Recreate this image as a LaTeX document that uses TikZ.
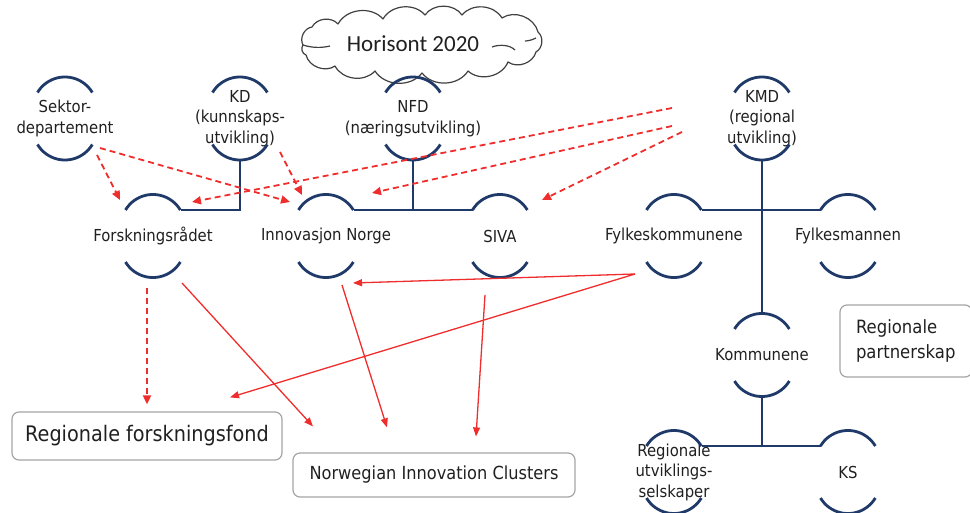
\documentclass[tikz,border=0pt]{standalone}
\usepackage{fontspec}
\setmainfont{DejaVu Sans}[FakeStretch=0.9]
\newfontfamily\cloudfont{Carlito}
\usetikzlibrary{arrows.meta,calc}
\definecolor{orgblue}{RGB}{31,58,104}
\definecolor{arrred}{RGB}{240,45,45}
\definecolor{boxgray}{RGB}{165,165,165}
\definecolor{txt}{RGB}{32,32,32}
\begin{document}
\begin{tikzpicture}[x=1pt,y=1pt,
  org/.style={rectangle, inner sep=0pt, align=center, text=txt, font=\fontsize{16.5}{20.5}\selectfont},
  orgline/.style={draw=orgblue, line width=2.8pt},
  cloudline/.style={draw=black!75, line width=1.2pt, line join=round},
  darr/.style={draw=arrred, line width=1.8pt, dash pattern=on 6pt off 4pt, -{Triangle[length=9pt,width=8pt]}},
  sarr/.style={draw=arrred, line width=1.3pt, -{Triangle[length=9pt,width=7pt]}},
  infobox/.style={draw=boxgray, line width=1.2pt, rounded corners=7pt, text=txt, inner sep=0pt}
]
\useasboundingbox (0,0) rectangle (970,-513);

% cloud
\draw[cloudline] (303,-45) to[bend left=55] (312,-27) to[bend left=55] (338,-24)
  to[bend left=55] (383,-19) to[bend left=55] (425,-15) to[bend left=55] (462,-15)
  to[bend left=55] (502,-18) to[bend left=55] (538,-32) to[bend left=55] (536,-52)
  to[bend left=55] (508,-62) to[bend left=55] (468,-71) to[bend left=55] (422,-73)
  to[bend left=55] (375,-71) to[bend left=55] (335,-66) to[bend left=55] (306,-55)
  to[bend left=55] (303,-45) -- cycle;
\draw[cloudline] (303,-45) .. controls (312,-48) and (322,-48) .. (330,-46);
\draw[cloudline] (492,-47) .. controls (500,-44) and (510,-45) .. (515,-50);
\draw[cloudline] (536,-38) .. controls (532,-40) and (528,-41) .. (525,-41);
\node[font=\cloudfont\fontsize{23}{26}\selectfont, text=txt] (h2020) at (413,-44) {Horisont 2020};

% organisations
\node[org] (sektor) at (65,-118.5) {Sektor-\\departement};
\node[org] (kd) at (240,-118.5) {KD\\(kunnskaps-\\utvikling)};
\node[org] (nfd) at (413,-118.5) {NFD\\(næringsutvikling)};
\node[org] (kmd) at (762,-118.5) {KMD\\(regional\\utvikling)};
\node[org] (forsk) at (153,-236) {Forskningsrådet};
\node[org] (innov) at (326,-236) {Innovasjon Norge};
\node[org] (siva) at (500,-236) {SIVA};
\node[org] (fylk) at (674,-236) {Fylkeskommunene};
\node[org] (fylkm) at (848,-236) {Fylkesmannen};
\node[org] (kommune) at (762,-355) {Kommunene};
\node[org] (rus) at (674,-472) {Regionale\\utviklings-\\selskaper};
\node[org] (ks) at (848,-472) {KS};

\foreach \n in {sektor,kd,nfd,kmd,forsk,innov,siva,fylk,fylkm,kommune,rus,ks}{
  \coordinate (\n-tl) at ([shift={(-27.5,26)}]\n.center);
  \coordinate (\n-tr) at ([shift={(27.5,26)}]\n.center);
  \coordinate (\n-bl) at ([shift={(-27.5,-26)}]\n.center);
  \coordinate (\n-top) at ([shift={(0,41.5)}]\n.center);
  \coordinate (\n-bot) at ([shift={(0,-41.5)}]\n.center);
  \draw[orgline] (\n-tl) arc[start angle=149,end angle=31,radius=32];
  \draw[orgline] (\n-bl) arc[start angle=211,end angle=329,radius=32];
}

% structure lines
\draw[orgline] (kd-bot) |- (forsk-tr);
\draw[orgline] (innov-tr) -- (siva-tl);
\draw[orgline] (nfd-bot) -- (nfd-bot |- innov-tr);
\draw[orgline] (fylk-tr) -- (fylkm-tl);
\draw[orgline] (kmd-bot) -- (kommune-top);
\draw[orgline] (rus-tr) -- (ks-tl);
\draw[orgline] (kommune-bot) -- (kommune-bot |- rus-tr);

% boxes
\node[infobox, minimum width=270pt, minimum height=48pt, font=\fontsize{21.4}{25}\selectfont] (rfond) at (147,-436) {Regionale forskningsfond};
\node[infobox, minimum width=282pt, minimum height=44pt, font=\fontsize{18}{22}\selectfont] (nic) at (434,-475) {Norwegian Innovation Clusters};
\node[infobox, minimum width=132pt, minimum height=72pt, text width=100pt, align=left, font=\fontsize{18.3}{25}\selectfont] (partner) at (906,-341) {Regionale\\partnerskap};

% dashed arrows
\draw[darr] ([shift={(32,-36.5)}]sektor.center) -- ([shift={(-33,36)}]forsk.center);
\draw[darr] ([shift={(35,-29.5)}]sektor.center) -- ([shift={(-36,34)}]innov.center);
\draw[darr] ([shift={(40,-33.5)}]kd.center) -- ([shift={(-24,41)}]innov.center);
\draw[darr] ([shift={(-90,10.5)}]kmd.center) -- ([shift={(39,34)}]forsk.center);
\draw[darr] ([shift={(-90,-7.5)}]kmd.center) -- ([shift={(46,43)}]innov.center);
\draw[darr] ([shift={(-80,-13.5)}]kmd.center) -- ([shift={(42,36)}]siva.center);
\draw[darr] ([shift={(-6,-52)}]forsk.center) -- ([shift={(0,7)}]rfond.north);

% solid arrows
\draw[sarr] ([shift={(29,-47)}]forsk.center) -- ([shift={(-121,26)}]nic.north);
\draw[sarr] ([shift={(16,-49)}]innov.center) -- ([shift={(-47,25)}]nic.north);
\draw[sarr] ([shift={(-15,-59)}]siva.center) -- ([shift={(42,16)}]nic.north);
\draw[sarr] ([shift={(-39,-38)}]fylk.center) -- ([shift={(27,-47)}]innov.center);
\draw[sarr] ([shift={(-39,-38)}]fylk.center) -- ([shift={(83,14)}]rfond.north);
\end{tikzpicture}
\end{document}
